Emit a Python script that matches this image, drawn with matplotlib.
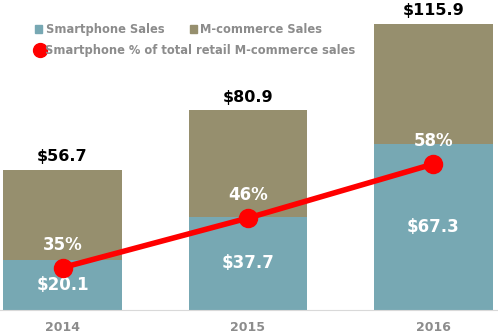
import matplotlib
matplotlib.use("Agg")
import matplotlib.pyplot as plt
from matplotlib.lines import Line2D
from matplotlib.patches import Patch

# data
years = ["2014", "2015", "2016"]
smartphone = [20.1, 37.7, 67.3]
total = [56.7, 80.9, 115.9]
pct = [35, 46, 58]

teal = "#77A8B3"
olive = "#968F6E"
red = "#FF0000"
grey = "#8C8C8C"

rest = [t - s for t, s in zip(total, smartphone)]
x = list(range(len(years)))

fig = plt.figure(figsize=(4.98, 3.34), dpi=100)
ax = fig.add_axes([0.0, 0.072, 1.0, 0.928])

ax.bar(x, smartphone, width=0.64, color=teal)
ax.bar(x, rest, width=0.64, bottom=smartphone, color=olive)

for i in x:
    ax.text(i, smartphone[i] / 2, f"${smartphone[i]}", ha="center", va="center",
            color="white", fontsize=12, fontweight="bold")
    ax.annotate(f"${total[i]}", (i, total[i]), xytext=(0, 4), textcoords="offset points",
                ha="center", va="bottom", color="black", fontsize=11.5, fontweight="bold")

ax.set_xlim(-0.337, 2.348)
ax.set_ylim(0, 125.6)
ax.set_xticks(x)
ax.set_xticklabels(years, color=grey, fontsize=9, fontweight="bold")
ax.tick_params(axis="x", length=0, pad=8)
ax.set_yticks([])
for s in ["top", "right", "left"]:
    ax.spines[s].set_visible(False)
ax.spines["bottom"].set_color("#D9D9D9")

# percentage line on its own scale
ax2 = ax.twinx()
ax2.plot(x, pct, color=red, linewidth=4, marker="o", markersize=13, solid_capstyle="round")
ax2.set_ylim(25.6, 94.4)
ax2.set_xlim(-0.337, 2.348)
ax2.axis("off")
for i in x:
    ax2.annotate(f"{pct[i]}%", (i, pct[i]), xytext=(0, 10), textcoords="offset points",
                 ha="center", va="bottom", color="white", fontsize=12, fontweight="bold")

# legend
legend_font = {"size": 8.3, "weight": "bold"}
leg1 = ax2.legend(handles=[Patch(color=teal, label="Smartphone Sales"),
                           Patch(color=olive, label="M-commerce Sales")],
                  ncol=2, loc="upper left", bbox_to_anchor=(0.062, 0.94), frameon=False,
                  handlelength=0.6, handleheight=0.6, handletextpad=0.3, columnspacing=2.2,
                  prop=legend_font, labelcolor=grey, borderaxespad=0)
ax2.add_artist(leg1)
ax2.legend(handles=[Line2D([], [], color=red, marker="o", linestyle="none", markersize=10,
                           label="Smartphone % of total retail M-commerce sales")],
           loc="upper left", bbox_to_anchor=(0.064, 0.874), frameon=False,
           handlelength=0.6, handletextpad=0.1, prop=legend_font,
           labelcolor=grey, borderaxespad=0)

fig.savefig("out.png", dpi=100)
